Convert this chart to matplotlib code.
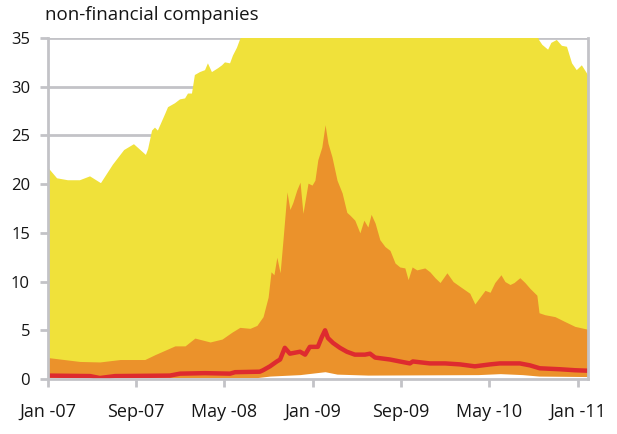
import numpy as np
import pandas as pd
import matplotlib
matplotlib.use("Agg")
import matplotlib.pyplot as plt

# upper band (yellow), values above 35 are cut off by the axis
yellow_dates = ['2007-01-01', '2007-01-26', '2007-02-25', '2007-03-30', '2007-04-27', '2007-05-27',
                '2007-06-29', '2007-07-30', '2007-08-26', '2007-09-28', '2007-10-04', '2007-10-15',
                '2007-10-23', '2007-10-31', '2007-11-20', '2007-11-28', '2007-12-17', '2007-12-31',
                '2008-01-14', '2008-01-22', '2008-02-02', '2008-02-10', '2008-02-24', '2008-03-09',
                '2008-03-17', '2008-03-28', '2008-04-14', '2008-04-25', '2008-05-03', '2008-05-17',
                '2008-05-25', '2008-06-05', '2008-06-13', '2008-06-27', '2008-09-01', '2009-01-01',
                '2009-06-01', '2010-01-01', '2010-06-01', '2010-09-10', '2010-09-16', '2010-09-25',
                '2010-10-11', '2010-10-20', '2010-11-04', '2010-11-18', '2010-12-02', '2010-12-16',
                '2010-12-29', '2011-01-12', '2011-01-29']
yellow_vals = [21.7, 20.6, 20.4, 20.4, 20.8, 20.1,
               22.0, 23.5, 24.1, 23.0, 23.6, 25.5,
               25.8, 25.5, 27.2, 27.9, 28.3, 28.7,
               28.8, 29.3, 29.3, 31.2, 31.5, 31.7,
               32.4, 31.5, 31.9, 32.2, 32.5, 32.4,
               33.2, 34.0, 34.8, 36.0, 38.0, 45.0,
               42.0, 40.0, 38.0, 35.5, 34.8, 34.3,
               33.8, 34.5, 34.8, 34.2, 34.1, 32.4,
               31.7, 32.2, 31.2]

# inner band (orange)
orange_dates = ['2007-01-01', '2007-03-30', '2007-05-24', '2007-07-19', '2007-09-25', '2007-10-23',
                '2007-12-17', '2008-01-14', '2008-02-10', '2008-03-23', '2008-04-25', '2008-05-22',
                '2008-06-13', '2008-07-11', '2008-07-30', '2008-08-16', '2008-08-30', '2008-09-07',
                '2008-09-15', '2008-09-23', '2008-10-02', '2008-10-10', '2008-10-21', '2008-10-29',
                '2008-11-06', '2008-11-17', '2008-11-26', '2008-12-04', '2008-12-18', '2008-12-29',
                '2009-01-06', '2009-01-14', '2009-01-25', '2009-02-03', '2009-02-11', '2009-02-22',
                '2009-03-08', '2009-03-22', '2009-04-04', '2009-04-13', '2009-04-26', '2009-05-10',
                '2009-05-21', '2009-06-01', '2009-06-10', '2009-06-21', '2009-07-04', '2009-07-18',
                '2009-08-01', '2009-08-15', '2009-08-28', '2009-09-11', '2009-09-20', '2009-10-01',
                '2009-10-14', '2009-11-05', '2009-11-19', '2009-12-03', '2009-12-17', '2010-01-05',
                '2010-01-22', '2010-02-10', '2010-03-09', '2010-03-23', '2010-04-06', '2010-04-20',
                '2010-05-04', '2010-05-17', '2010-06-03', '2010-06-14', '2010-06-28', '2010-07-09',
                '2010-07-25', '2010-08-08', '2010-08-22', '2010-09-10', '2010-09-16', '2010-10-02',
                '2010-10-30', '2010-11-26', '2010-12-24', '2011-01-29']
orange_vals = [2.2, 1.8, 1.75, 2.0, 2.0, 2.5,
               3.4, 3.4, 4.2, 3.8, 4.1, 4.8,
               5.3, 5.2, 5.5, 6.4, 8.4, 11.0,
               10.7, 12.5, 10.9, 14.3, 19.2, 17.4,
               18.1, 19.4, 20.2, 17.0, 20.1, 19.9,
               20.4, 22.5, 23.8, 26.1, 24.2, 22.8,
               20.4, 19.1, 17.1, 16.8, 16.3, 15.0,
               16.3, 15.6, 16.9, 16.0, 14.3, 13.6,
               13.2, 11.9, 11.5, 11.4, 10.2, 11.5,
               11.2, 11.4, 11.0, 10.4, 9.9, 10.9,
               10.0, 9.5, 8.8, 7.7, 8.4, 9.1,
               8.9, 9.9, 10.7, 10.0, 9.7, 9.9,
               10.4, 9.9, 9.3, 8.6, 6.8, 6.6,
               6.4, 5.9, 5.4, 5.1]

# median (red line)
red_dates = ['2007-01-01', '2007-04-27', '2007-05-24', '2007-07-05', '2007-12-03', '2007-12-31',
             '2008-03-09', '2008-05-17', '2008-05-31', '2008-08-07', '2008-08-16', '2008-09-04',
             '2008-09-23', '2008-10-02', '2008-10-15', '2008-10-29', '2008-11-26', '2008-12-10',
             '2008-12-23', '2009-01-14', '2009-01-25', '2009-02-03', '2009-02-11', '2009-02-25',
             '2009-03-16', '2009-04-04', '2009-04-26', '2009-05-24', '2009-06-07', '2009-06-21',
             '2009-08-01', '2009-08-28', '2009-09-25', '2009-10-03', '2009-11-19', '2009-12-31',
             '2010-02-10', '2010-03-23', '2010-05-04', '2010-05-31', '2010-07-25', '2010-08-22',
             '2010-09-18', '2010-11-13', '2010-12-24', '2011-01-29']
red_vals = [0.35, 0.3, 0.1, 0.3, 0.35, 0.55,
            0.6, 0.55, 0.7, 0.75, 0.9, 1.3,
            1.8, 2.0, 3.2, 2.6, 2.8, 2.5,
            3.3, 3.3, 4.3, 5.0, 4.2, 3.7,
            3.2, 2.8, 2.5, 2.5, 2.6, 2.2,
            2.0, 1.8, 1.6, 1.8, 1.6, 1.6,
            1.5, 1.3, 1.5, 1.6, 1.6, 1.4,
            1.1, 1.0, 0.9, 0.85]

# lower edge of the bands (white below)
low_dates = ['2007-01-01', '2008-08-01', '2008-09-04', '2008-11-26', '2009-02-03', '2009-03-08',
             '2009-06-01', '2010-04-01', '2010-06-01', '2010-08-01', '2010-09-16', '2011-01-29']
low_vals = [0.15, 0.15, 0.3, 0.45, 0.75, 0.5,
            0.4, 0.45, 0.55, 0.45, 0.3, 0.25]

tick_dates = ['2007-01-01', '2007-09-01', '2008-05-01', '2009-01-01', '2009-09-01', '2010-05-01', '2011-01-01']
tick_labels = ['Jan -07', 'Sep-07', 'May -08', 'Jan -09', 'Sep-09', 'May -10', 'Jan -11']

plt.rcParams['font.family'] = ['Open Sans', 'DejaVu Sans']

yellow = '#F0E13A'
orange = '#EB922B'
red = '#DE2B2F'
grey = '#C3C3C7'
txt = '#151515'

fig = plt.figure(figsize=(6.17, 4.34), dpi=100)
ax = fig.add_axes([48 / 617, 55 / 434, 540 / 617, 341 / 434])

ax.fill_between(pd.to_datetime(yellow_dates), 0, yellow_vals, color=yellow, lw=0, zorder=2)
ax.fill_between(pd.to_datetime(orange_dates), 0, orange_vals, color=orange, lw=0, zorder=3)
ax.fill_between(pd.to_datetime(low_dates), -1, low_vals, color='white', lw=0, zorder=4)
ax.plot(pd.to_datetime(red_dates), red_vals, color=red, lw=3.2, zorder=5)

ax.set_ylim(0, 35)
ax.set_xlim(pd.Timestamp('2007-01-01'), pd.Timestamp('2011-01-29'))
ax.set_yticks(np.arange(0, 36, 5))
ax.yaxis.grid(True, color=grey, lw=2, zorder=1)
ax.set_axisbelow(True)

ax.set_xticks(pd.to_datetime(tick_dates))
ax.set_xticklabels(tick_labels)

for s in ax.spines.values():
    s.set_color(grey)
    s.set_linewidth(2)
    s.set_zorder(6)
ax.spines['top'].set_visible(False)

ax.tick_params(axis='both', colors=grey, width=2, length=6, labelcolor=txt)
ax.tick_params(axis='x', pad=11, labelsize=13)
ax.tick_params(axis='y', pad=7, labelsize=12)

fig.text(45 / 617, 1 - 15 / 434, 'non-financial companies', fontsize=13.5, color=txt,
         ha='left', va='center')

fig.savefig('out.png', dpi=100)
